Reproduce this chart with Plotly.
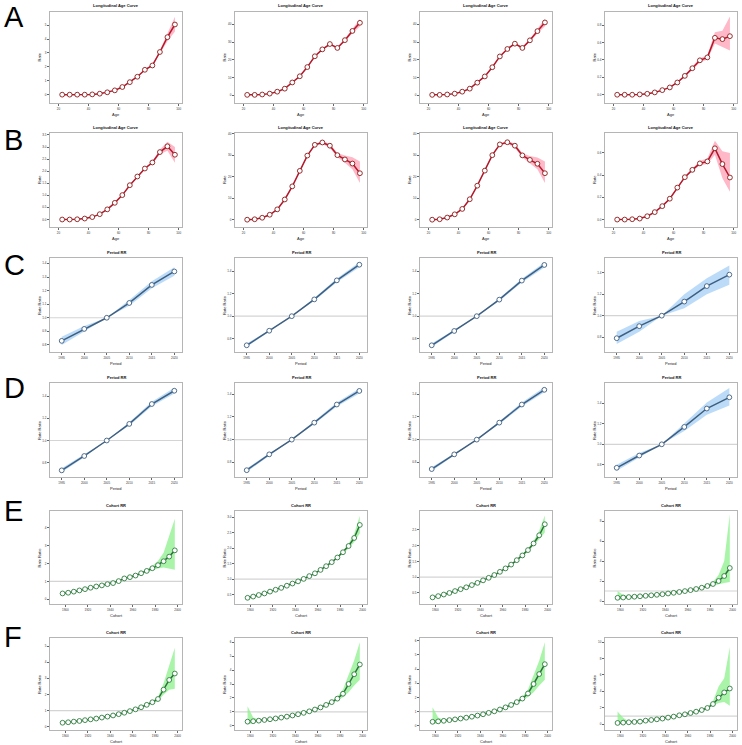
import plotly.graph_objects as go

# ---------------- data ----------------
ages = [22.5, 27.5, 32.5, 37.5, 42.5, 47.5, 52.5, 57.5, 62.5, 67.5, 72.5, 77.5, 82.5, 87.5, 92.5, 97.5]
periods = [1995, 2000, 2005, 2010, 2015, 2020]
cohorts = [1897.5, 1902.5, 1907.5, 1912.5, 1917.5, 1922.5, 1927.5, 1932.5, 1937.5, 1942.5, 1947.5,
           1952.5, 1957.5, 1962.5, 1967.5, 1972.5, 1977.5, 1982.5, 1987.5, 1992.5, 1997.5]

age_ticks = [20, 40, 60, 80, 100]
period_ticks = [1995, 2000, 2005, 2010, 2015, 2020]
cohort_ticks = [1900, 1920, 1940, 1960, 1980, 2000]

# Row A : longitudinal age curves
A1_rate = [0.00, 0.00, 0.00, 0.00, 0.02, 0.07, 0.17, 0.31, 0.55, 0.90, 1.29, 1.79, 2.10, 3.07, 4.14, 5.05]
A1_lo = [0.00, 0.00, 0.00, 0.00, 0.01, 0.06, 0.16, 0.29, 0.53, 0.87, 1.25, 1.74, 2.04, 2.95, 3.85, 4.55]
A1_hi = [0.00, 0.00, 0.00, 0.00, 0.03, 0.08, 0.18, 0.33, 0.57, 0.93, 1.33, 1.84, 2.16, 3.19, 4.45, 5.60]
A1_ticks = [0, 1, 2, 3, 4, 5, 6]

A2_rate = [0.2, 0.2, 0.4, 0.9, 2.0, 3.7, 7.2, 10.7, 15.9, 22.0, 25.9, 28.9, 26.7, 31.1, 36.3, 40.9]
A2_lo = [0.2, 0.2, 0.4, 0.9, 1.9, 3.6, 7.0, 10.5, 15.6, 21.7, 25.5, 28.4, 26.1, 30.3, 35.0, 38.8]
A2_hi = [0.2, 0.2, 0.4, 0.9, 2.1, 3.8, 7.4, 10.9, 16.2, 22.3, 26.3, 29.4, 27.3, 31.9, 37.6, 43.0]
A2_ticks = [0, 10, 20, 30, 40]

A3_rate = [0.2, 0.2, 0.4, 0.9, 2.0, 3.7, 7.1, 10.6, 15.8, 21.9, 26.1, 29.1, 26.7, 31.0, 36.2, 41.1]
A3_lo = [0.2, 0.2, 0.4, 0.9, 1.9, 3.6, 6.9, 10.4, 15.5, 21.6, 25.7, 28.6, 26.1, 30.2, 34.9, 39.0]
A3_hi = [0.2, 0.2, 0.4, 0.9, 2.1, 3.8, 7.3, 10.8, 16.1, 22.2, 26.5, 29.6, 27.3, 31.8, 37.5, 43.2]
A3_ticks = [0, 10, 20, 30, 40]

A4_rate = [0.000, 0.000, 0.000, 0.004, 0.011, 0.027, 0.053, 0.084, 0.141, 0.217, 0.305, 0.396, 0.430, 0.655, 0.640, 0.674]
A4_lo = [0.000, 0.000, 0.000, 0.003, 0.010, 0.025, 0.050, 0.080, 0.135, 0.205, 0.285, 0.370, 0.405, 0.590, 0.550, 0.510]
A4_hi = [0.000, 0.000, 0.000, 0.005, 0.012, 0.029, 0.056, 0.088, 0.147, 0.229, 0.325, 0.420, 0.455, 0.720, 0.735, 0.900]
A4_ticks = [0.0, 0.2, 0.4, 0.6, 0.8]

# Row B : longitudinal age curves
B1_rate = [0.00, 0.00, 0.01, 0.04, 0.10, 0.22, 0.42, 0.69, 1.01, 1.42, 1.78, 2.11, 2.36, 2.79, 3.03, 2.68]
B1_lo = [0.00, 0.00, 0.01, 0.04, 0.10, 0.21, 0.41, 0.68, 1.00, 1.40, 1.76, 2.08, 2.31, 2.70, 2.85, 2.35]
B1_hi = [0.00, 0.00, 0.01, 0.04, 0.10, 0.23, 0.43, 0.70, 1.02, 1.44, 1.80, 2.14, 2.41, 2.90, 3.22, 3.00]
B1_ticks = [0.0, 0.5, 1.0, 1.5, 2.0, 2.5, 3.0, 3.5]

B2_rate = [0.0, 0.2, 0.9, 2.3, 4.8, 9.4, 15.5, 22.7, 29.8, 34.8, 35.9, 34.4, 30.0, 28.0, 26.1, 21.6]
B2_lo = [0.0, 0.2, 0.9, 2.3, 4.7, 9.3, 15.3, 22.4, 29.5, 34.4, 35.2, 33.5, 29.0, 26.5, 23.5, 17.0]
B2_hi = [0.0, 0.2, 0.9, 2.3, 4.9, 9.5, 15.7, 23.0, 30.1, 35.2, 36.6, 35.3, 31.0, 29.8, 29.0, 27.0]
B2_ticks = [0, 10, 20, 30, 40]

B3_rate = [0.0, 0.2, 1.0, 2.5, 5.0, 9.5, 15.8, 22.8, 30.0, 35.0, 36.0, 34.4, 29.9, 27.8, 26.0, 21.6]
B3_lo = [0.0, 0.2, 1.0, 2.5, 4.9, 9.4, 15.6, 22.5, 29.7, 34.6, 35.3, 33.5, 28.9, 26.3, 23.4, 17.0]
B3_hi = [0.0, 0.2, 1.0, 2.5, 5.1, 9.6, 16.0, 23.1, 30.3, 35.4, 36.7, 35.3, 30.9, 29.6, 28.9, 27.0]
B3_ticks = [0, 10, 20, 30, 40]

B4_rate = [0.000, 0.000, 0.003, 0.009, 0.030, 0.067, 0.121, 0.188, 0.288, 0.382, 0.448, 0.506, 0.524, 0.642, 0.500, 0.379]
B4_lo = [0.000, 0.000, 0.003, 0.009, 0.029, 0.065, 0.118, 0.184, 0.282, 0.374, 0.437, 0.490, 0.500, 0.585, 0.373, 0.250]
B4_hi = [0.000, 0.000, 0.003, 0.009, 0.031, 0.069, 0.124, 0.192, 0.294, 0.390, 0.459, 0.530, 0.550, 0.710, 0.615, 0.600]
B4_ticks = [0.0, 0.2, 0.4, 0.6]

# Row C : period rate ratios
C1_rr = [0.830, 0.918, 1.000, 1.109, 1.242, 1.341]
C1_lo = [0.800, 0.898, 1.000, 1.089, 1.217, 1.310]
C1_hi = [0.860, 0.940, 1.000, 1.130, 1.268, 1.372]
C1_ticks = [0.8, 0.9, 1.0, 1.1, 1.2, 1.3, 1.4]

C2_rr = [0.740, 0.870, 1.000, 1.150, 1.320, 1.460]
C2_lo = [0.725, 0.860, 1.000, 1.138, 1.303, 1.438]
C2_hi = [0.755, 0.880, 1.000, 1.162, 1.337, 1.482]
C2_ticks = [0.8, 1.0, 1.2, 1.4]

C3_rr = [0.740, 0.868, 1.000, 1.148, 1.318, 1.458]
C3_lo = [0.725, 0.858, 1.000, 1.136, 1.301, 1.436]
C3_hi = [0.755, 0.878, 1.000, 1.160, 1.335, 1.480]
C3_ticks = [0.8, 1.0, 1.2, 1.4]

C4_rr = [0.789, 0.902, 1.000, 1.132, 1.277, 1.384]
C4_lo = [0.735, 0.850, 1.000, 1.070, 1.200, 1.290]
C4_hi = [0.850, 0.950, 1.000, 1.200, 1.350, 1.470]
C4_ticks = [0.8, 1.0, 1.2, 1.4]

# Row D : period rate ratios
D1_rr = [0.730, 0.860, 1.000, 1.150, 1.330, 1.450]
D1_lo = [0.712, 0.848, 1.000, 1.136, 1.310, 1.424]
D1_hi = [0.748, 0.872, 1.000, 1.164, 1.350, 1.476]
D1_ticks = [0.8, 1.0, 1.2, 1.4]

D2_rr = [0.730, 0.870, 1.000, 1.150, 1.310, 1.430]
D2_lo = [0.714, 0.860, 1.000, 1.138, 1.293, 1.408]
D2_hi = [0.746, 0.880, 1.000, 1.162, 1.327, 1.452]
D2_ticks = [0.8, 1.0, 1.2, 1.4]

D3_rr = [0.740, 0.870, 1.000, 1.150, 1.310, 1.440]
D3_lo = [0.724, 0.860, 1.000, 1.138, 1.293, 1.418]
D3_hi = [0.756, 0.880, 1.000, 1.162, 1.327, 1.462]
D3_ticks = [0.8, 1.0, 1.2, 1.4]

D4_rr = [0.770, 0.890, 1.000, 1.170, 1.350, 1.460]
D4_lo = [0.740, 0.868, 1.000, 1.130, 1.290, 1.380]
D4_hi = [0.800, 0.915, 1.000, 1.210, 1.410, 1.550]
D4_ticks = [0.8, 1.0, 1.2, 1.4]

# Row E : cohort rate ratios
E1_rr = [0.33, 0.37, 0.43, 0.50, 0.57, 0.65, 0.72, 0.78, 0.85, 0.91, 1.02, 1.17, 1.24, 1.33, 1.46, 1.59, 1.74, 1.91, 2.13, 2.39, 2.74]
E1_lo = [0.31, 0.36, 0.42, 0.49, 0.56, 0.64, 0.71, 0.77, 0.84, 0.90, 1.01, 1.15, 1.22, 1.30, 1.41, 1.52, 1.63, 1.72, 1.78, 1.72, 1.65]
E1_hi = [0.35, 0.38, 0.44, 0.51, 0.58, 0.66, 0.73, 0.79, 0.86, 0.92, 1.03, 1.19, 1.26, 1.36, 1.51, 1.67, 1.88, 2.15, 2.60, 3.60, 4.50]
E1_ticks = [0, 1, 2, 3, 4]

E2_rr = [0.40, 0.44, 0.49, 0.54, 0.60, 0.66, 0.72, 0.79, 0.86, 0.93, 1.01, 1.10, 1.19, 1.30, 1.42, 1.55, 1.70, 1.87, 2.07, 2.33, 2.75]
E2_lo = [0.38, 0.43, 0.48, 0.53, 0.59, 0.65, 0.71, 0.78, 0.85, 0.92, 1.00, 1.09, 1.18, 1.28, 1.39, 1.52, 1.66, 1.82, 1.99, 2.20, 2.48]
E2_hi = [0.42, 0.45, 0.50, 0.55, 0.61, 0.67, 0.73, 0.80, 0.87, 0.94, 1.02, 1.11, 1.20, 1.32, 1.45, 1.58, 1.74, 1.92, 2.15, 2.47, 3.05]
E2_ticks = [0.5, 1.0, 1.5, 2.0, 2.5, 3.0]

E3_rr = [0.36, 0.40, 0.45, 0.50, 0.56, 0.62, 0.68, 0.75, 0.82, 0.90, 0.98, 1.07, 1.17, 1.28, 1.40, 1.54, 1.69, 1.86, 2.07, 2.33, 2.68]
E3_lo = [0.34, 0.39, 0.44, 0.49, 0.55, 0.61, 0.67, 0.74, 0.81, 0.89, 0.97, 1.06, 1.16, 1.26, 1.37, 1.51, 1.65, 1.81, 1.99, 2.20, 2.42]
E3_hi = [0.38, 0.41, 0.46, 0.51, 0.57, 0.63, 0.69, 0.76, 0.83, 0.91, 0.99, 1.08, 1.18, 1.30, 1.43, 1.57, 1.73, 1.91, 2.15, 2.47, 2.96]
E3_ticks = [0.5, 1.0, 1.5, 2.0, 2.5]

E4_rr = [0.32, 0.35, 0.39, 0.43, 0.47, 0.52, 0.57, 0.62, 0.68, 0.75, 0.82, 0.90, 0.99, 1.09, 1.20, 1.33, 1.50, 1.70, 2.00, 2.50, 3.30]
E4_lo = [0.12, 0.22, 0.31, 0.38, 0.44, 0.50, 0.55, 0.60, 0.66, 0.73, 0.80, 0.88, 0.96, 1.05, 1.15, 1.26, 1.40, 1.55, 1.65, 1.80, 1.90]
E4_hi = [1.00, 0.60, 0.49, 0.48, 0.50, 0.54, 0.59, 0.64, 0.70, 0.77, 0.84, 0.92, 1.02, 1.13, 1.26, 1.41, 1.62, 1.90, 2.60, 4.00, 8.70]
E4_ticks = [0, 2, 4, 6, 8]

# Row F : cohort rate ratios
F1_rr = [0.25, 0.28, 0.32, 0.36, 0.41, 0.46, 0.51, 0.57, 0.63, 0.70, 0.78, 0.87, 0.97, 1.08, 1.21, 1.36, 1.52, 1.72, 2.30, 2.90, 3.30]
F1_lo = [0.23, 0.27, 0.31, 0.35, 0.40, 0.45, 0.50, 0.56, 0.62, 0.69, 0.77, 0.86, 0.95, 1.06, 1.18, 1.30, 1.44, 1.60, 2.00, 2.30, 2.35]
F1_hi = [0.27, 0.29, 0.33, 0.37, 0.42, 0.47, 0.52, 0.58, 0.64, 0.71, 0.79, 0.88, 0.99, 1.10, 1.24, 1.42, 1.60, 1.85, 2.70, 3.80, 4.90]
F1_ticks = [0, 1, 2, 3, 4, 5]

F2_rr = [0.30, 0.33, 0.37, 0.42, 0.47, 0.53, 0.59, 0.66, 0.74, 0.83, 0.93, 1.04, 1.17, 1.32, 1.50, 1.70, 1.95, 2.30, 3.00, 3.70, 4.40]
F2_lo = [0.10, 0.20, 0.31, 0.38, 0.44, 0.51, 0.57, 0.64, 0.72, 0.81, 0.91, 1.01, 1.13, 1.27, 1.43, 1.60, 1.80, 2.05, 2.40, 2.90, 3.30]
F2_hi = [1.40, 0.60, 0.45, 0.46, 0.50, 0.55, 0.61, 0.68, 0.76, 0.85, 0.95, 1.07, 1.21, 1.37, 1.57, 1.80, 2.10, 2.60, 3.60, 4.70, 6.00]
F2_ticks = [0, 1, 2, 3, 4, 5, 6]

F3_rr = [0.28, 0.31, 0.35, 0.40, 0.45, 0.51, 0.57, 0.64, 0.72, 0.81, 0.91, 1.02, 1.15, 1.30, 1.47, 1.67, 1.92, 2.28, 2.95, 3.65, 4.35]
F3_lo = [0.10, 0.19, 0.29, 0.36, 0.42, 0.49, 0.55, 0.62, 0.70, 0.79, 0.89, 0.99, 1.11, 1.25, 1.40, 1.57, 1.77, 2.03, 2.36, 2.85, 3.25]
F3_hi = [1.30, 0.58, 0.43, 0.44, 0.48, 0.53, 0.59, 0.66, 0.74, 0.83, 0.93, 1.05, 1.19, 1.35, 1.54, 1.77, 2.07, 2.56, 3.55, 4.60, 5.90]
F3_ticks = [0, 1, 2, 3, 4, 5, 6]

F4_rr = [0.16, 0.20, 0.24, 0.28, 0.32, 0.44, 0.52, 0.60, 0.69, 0.81, 0.93, 1.09, 1.21, 1.37, 1.53, 1.73, 1.98, 2.46, 3.23, 3.87, 4.35]
F4_lo = [0.00, 0.08, 0.18, 0.24, 0.29, 0.41, 0.49, 0.57, 0.66, 0.78, 0.90, 1.05, 1.17, 1.32, 1.47, 1.65, 1.90, 2.30, 2.60, 2.70, 2.26]
F4_hi = [1.55, 0.80, 0.35, 0.32, 0.35, 0.47, 0.55, 0.63, 0.72, 0.84, 0.96, 1.13, 1.25, 1.42, 1.59, 1.81, 2.10, 2.80, 4.60, 5.60, 9.40]
F4_ticks = [0, 2, 4, 6, 8, 10]

row_letters = ["A", "B", "C", "D", "E", "F"]

# ---------------- layout / styling ----------------
W, H = 742, 745
col_left = [50, 235, 420, 605]
box_w = 132
row_top = [12, 133, 258, 383, 511, 638]
row_bot = [103, 227, 352, 477, 604, 730]

KINDS = {
    "age": dict(x=ages, xrange=[14.4, 102.2], xticks=age_ticks, title="Longitudinal Age Curve",
                xlabel="Age", ylabel="Rate", band="rgba(255,160,180,0.75)", line="#b2182b",
                mk="#8b1a1a", ref=False),
    "period": dict(x=periods, xrange=[1992.4, 2021.7], xticks=period_ticks, title="Period RR",
                   xlabel="Period", ylabel="Rate Ratio", band="rgba(150,200,245,0.65)", line="#3f5f80",
                   mk="#3f5f80", ref=True),
    "cohort": dict(x=cohorts, xrange=[1886.3, 2003.9], xticks=cohort_ticks, title="Cohort RR",
                   xlabel="Cohort", ylabel="Rate Ratio", band="rgba(140,240,140,0.75)", line="#2e6e3c",
                   mk="#2e7d3e", ref=True),
}

panels = [
    (0, 0, "age", A1_rate, A1_lo, A1_hi, [-0.6, 5.95], A1_ticks),
    (0, 1, "age", A2_rate, A2_lo, A2_hi, [-4.4, 47.0], A2_ticks),
    (0, 2, "age", A3_rate, A3_lo, A3_hi, [-4.4, 47.0], A3_ticks),
    (0, 3, "age", A4_rate, A4_lo, A4_hi, [-0.095, 0.952], A4_ticks),
    (1, 0, "age", B1_rate, B1_lo, B1_hi, [-0.31, 3.58], B1_ticks),
    (1, 1, "age", B2_rate, B2_lo, B2_hi, [-3.4, 40.3], B2_ticks),
    (1, 2, "age", B3_rate, B3_lo, B3_hi, [-3.4, 40.3], B3_ticks),
    (1, 3, "age", B4_rate, B4_lo, B4_hi, [-0.067, 0.78], B4_ticks),
    (2, 0, "period", C1_rr, C1_lo, C1_hi, [0.748, 1.44], C1_ticks),
    (2, 1, "period", C2_rr, C2_lo, C2_hi, [0.68, 1.52], C2_ticks),
    (2, 2, "period", C3_rr, C3_lo, C3_hi, [0.68, 1.52], C3_ticks),
    (2, 3, "period", C4_rr, C4_lo, C4_hi, [0.66, 1.54], C4_ticks),
    (3, 0, "period", D1_rr, D1_lo, D1_hi, [0.67, 1.52], D1_ticks),
    (3, 1, "period", D2_rr, D2_lo, D2_hi, [0.67, 1.50], D2_ticks),
    (3, 2, "period", D3_rr, D3_lo, D3_hi, [0.67, 1.50], D3_ticks),
    (3, 3, "period", D4_rr, D4_lo, D4_hi, [0.68, 1.60], D4_ticks),
    (4, 0, "cohort", E1_rr, E1_lo, E1_hi, [-0.26, 4.94], E1_ticks),
    (4, 1, "cohort", E2_rr, E2_lo, E2_hi, [0.2, 3.2], E2_ticks),
    (4, 2, "cohort", E3_rr, E3_lo, E3_hi, [0.15, 3.1], E3_ticks),
    (4, 3, "cohort", E4_rr, E4_lo, E4_hi, [-0.3, 9.0], E4_ticks),
    (5, 0, "cohort", F1_rr, F1_lo, F1_hi, [-0.2, 5.5], F1_ticks),
    (5, 1, "cohort", F2_rr, F2_lo, F2_hi, [-0.3, 6.3], F2_ticks),
    (5, 2, "cohort", F3_rr, F3_lo, F3_hi, [-0.3, 6.2], F3_ticks),
    (5, 3, "cohort", F4_rr, F4_lo, F4_hi, [-0.7, 10.5], F4_ticks),
]

FONT = "Liberation Sans, Arial, sans-serif"


def fmt(v, ticks):
    if all(float(t).is_integer() for t in ticks):
        return str(int(v))
    return f"{v:.1f}"


fig = go.Figure()
layout = {}
shapes = []
annotations = []

for i, (r, c, kind, yv, lo, hi, yr, yt) in enumerate(panels, start=1):
    cfg = KINDS[kind]
    xa = "x" if i == 1 else f"x{i}"
    ya = "y" if i == 1 else f"y{i}"
    x = list(cfg["x"])
    fig.add_trace(go.Scatter(
        x=x + x[::-1], y=list(hi) + list(lo)[::-1], fill="toself",
        fillcolor=cfg["band"], line=dict(width=0), mode="lines",
        xaxis=xa, yaxis=ya, hoverinfo="skip", showlegend=False))
    fig.add_trace(go.Scatter(
        x=x, y=yv, mode="lines+markers",
        line=dict(color=cfg["line"], width=1.5),
        marker=dict(symbol="circle", size=4.8, color="white",
                    line=dict(color=cfg["mk"], width=0.9)),
        xaxis=xa, yaxis=ya, showlegend=False))

    left = col_left[c]
    x0, x1 = left / W, (left + box_w) / W
    y0, y1 = 1 - row_bot[r] / H, 1 - row_top[r] / H
    common = dict(showline=True, mirror=True, linecolor="#b5b5b5", linewidth=1,
                  ticks="outside", ticklen=2, tickwidth=0.6, tickcolor="#666666",
                  tickfont=dict(size=3, color="#333333", family=FONT),
                  showgrid=False, zeroline=False, fixedrange=True)
    layout[f"xaxis{i}"] = dict(domain=[x0, x1], anchor=ya, range=cfg["xrange"],
                               tickvals=cfg["xticks"], ticktext=[str(t) for t in cfg["xticks"]],
                               **common)
    layout[f"yaxis{i}"] = dict(domain=[y0, y1], anchor=xa, range=yr, tickvals=yt,
                               ticktext=[fmt(t, yt) for t in yt], **common)
    if cfg["ref"]:
        shapes.append(dict(type="line", xref=f"{xa} domain", yref=ya, x0=0, x1=1, y0=1, y1=1,
                           line=dict(color="#d4d4d4", width=1.2), layer="below"))
    annotations.append(dict(text=f"<b>{cfg['title']}</b>", x=(x0 + x1) / 2, y=1 - (row_top[r] - 6) / H,
                            xref="paper", yref="paper", showarrow=False, xanchor="center", yanchor="middle",
                            font=dict(size=4, color="#111111", family=FONT)))
    annotations.append(dict(text=cfg["xlabel"], x=(x0 + x1) / 2, y=1 - (row_bot[r] + 11) / H,
                            xref="paper", yref="paper", showarrow=False, xanchor="center", yanchor="middle",
                            font=dict(size=4, color="#222222", family=FONT)))
    annotations.append(dict(text=cfg["ylabel"], x=(left - 11) / W, y=(y0 + y1) / 2,
                            xref="paper", yref="paper", showarrow=False, xanchor="center", yanchor="middle",
                            textangle=-90, font=dict(size=4, color="#222222", family=FONT)))

letter_y = [17, 140, 265, 388, 511, 637]
for letter, ly in zip(row_letters, letter_y):
    annotations.append(dict(text=letter, x=2 / W, y=1 - ly / H, xref="paper", yref="paper",
                            showarrow=False, xanchor="left", yanchor="middle",
                            font=dict(size=29, color="#000000", family=FONT)))

fig.update_layout(width=W, height=H, margin=dict(l=0, r=0, t=0, b=0),
                  paper_bgcolor="white", plot_bgcolor="white",
                  shapes=shapes, annotations=annotations, **layout)

fig.write_html("out.html")
